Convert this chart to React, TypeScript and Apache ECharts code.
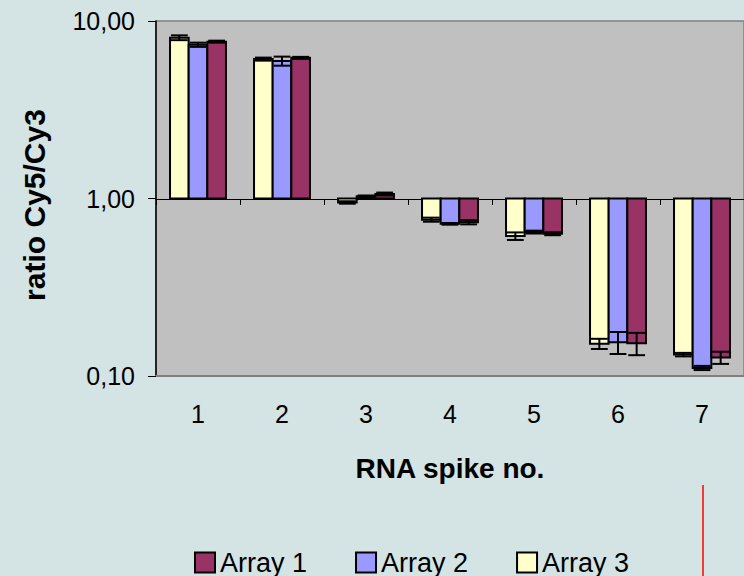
import React, { useEffect, useRef } from "react";
import * as echarts from "echarts";

const categories = ["1", "2", "3", "4", "5", "6", "7"];
const array1 = [7.65, 6.2, 1.06, 0.735, 0.633, 0.153, 0.127];
const array1Err = [0.1, 0.08, 0.02, 0.02, 0.012, 0.022, 0.01];
const array2 = [7.35, 5.95, 1.03, 0.72, 0.647, 0.155, 0.111];
const array2Err = [0.2, 0.35, 0.01, 0.008, 0.012, 0.022, 0.003];
const array3 = [8.05, 6.1, 0.95, 0.76, 0.614, 0.152, 0.132];
const array3Err = [0.25, 0.12, 0.015, 0.02, 0.03, 0.01, 0.003];
const yTicks = [0.1, 1, 10];

const FONT = "Liberation Sans, Arial, sans-serif";

function makeSeries(name: string, vals: number[], errs: number[], color: string, slot: number) {
  return {
    name,
    type: "custom",
    clip: true,
    itemStyle: { color, borderColor: "#000", borderWidth: 2 },
    data: vals.map((v, i) => [i, v, errs[i]]),
    renderItem: (params: any, api: any) => {
      const idx = api.value(0);
      const v = api.value(1);
      const e = api.value(2);
      const c0 = api.coord([0, 1]);
      const c1 = api.coord([1, 1]);
      const band = c1[0] - c0[0];
      const bw = band * 0.222;
      const base = api.coord([idx, 1]);
      const top = api.coord([idx, v]);
      const x0 = base[0] + (slot - 0.5) * bw;
      const y0 = Math.min(base[1], top[1]);
      const h = Math.abs(base[1] - top[1]);
      const yUp = api.coord([idx, v + e])[1];
      const yDn = api.coord([idx, v - e])[1];
      const cx = x0 + bw / 2;
      const cap = bw * 0.45;
      const ls = { stroke: "#000", lineWidth: 2 };
      return {
        type: "group",
        children: [
          { type: "rect", shape: { x: x0, y: y0, width: bw, height: h }, style: { fill: color, stroke: "#000", lineWidth: 2 } },
          { type: "line", shape: { x1: cx, y1: yUp, x2: cx, y2: yDn }, style: ls },
          { type: "line", shape: { x1: cx - cap, y1: yUp, x2: cx + cap, y2: yUp }, style: ls },
          { type: "line", shape: { x1: cx - cap, y1: yDn, x2: cx + cap, y2: yDn }, style: ls },
        ],
      };
    },
  };
}

export default function App() {
  const ref = useRef<HTMLDivElement>(null);
  useEffect(() => {
    if (!ref.current) return;
    const chart = echarts.init(ref.current, undefined, { renderer: "svg" });
    chart.setOption({
      animation: false,
      backgroundColor: "#D4E3E3",
      textStyle: { fontFamily: FONT },
      grid: {
        left: 156,
        top: 21,
        width: 590,
        height: 355,
        show: true,
        backgroundColor: "#C0C0C0",
        borderColor: "#808080",
        borderWidth: 1.5,
      },
      legend: {
        left: 189,
        top: 544,
        icon: "rect",
        itemWidth: 20,
        itemHeight: 20,
        itemGap: 48,
        textStyle: { fontSize: 27, color: "#000", fontFamily: FONT },
        data: [
          { name: "Array 1", itemStyle: { color: "#993366", borderColor: "#000", borderWidth: 2 } },
          { name: "Array 2", itemStyle: { color: "#9999FF", borderColor: "#000", borderWidth: 2 } },
          { name: "Array 3", itemStyle: { color: "#FFFFCC", borderColor: "#000", borderWidth: 2 } },
        ],
      },
      xAxis: [
        {
          type: "category",
          data: categories,
          position: "bottom",
          axisLine: { show: true, lineStyle: { color: "#808080", width: 2 } },
          axisTick: { show: false },
          axisLabel: { fontSize: 25, color: "#000", margin: 25, fontFamily: FONT },
          name: "RNA spike no.",
          nameLocation: "middle",
          nameGap: 92,
          nameTextStyle: { fontSize: 28, fontWeight: "bold", color: "#000", fontFamily: FONT, verticalAlign: "middle" },
        },
        {
          type: "category",
          data: categories,
          position: "bottom",
          offset: -177,
          axisLine: { show: true, lineStyle: { color: "#000", width: 1 } },
          axisTick: { show: true, length: 6, lineStyle: { color: "#000" } },
          axisLabel: { show: false },
        },
      ],
      yAxis: {
        type: "log",
        logBase: 10,
        min: 0.1,
        max: 10,
        axisLine: { show: true, lineStyle: { color: "#000", width: 1.5 } },
        axisTick: { show: true, length: 8, lineStyle: { color: "#000" } },
        splitLine: { show: false },
        axisLabel: {
          fontSize: 25,
          color: "#000",
          margin: 21,
          fontFamily: FONT,
          formatter: (v: number) => {
            const t = yTicks.find((k) => Math.abs(k - v) < 1e-9) ?? v;
            return t.toFixed(2).replace(".", ",");
          },
        },
      },
      graphic: [
        {
          type: "text",
          x: 34,
          y: 205,
          rotation: Math.PI / 2,
          style: {
            text: "ratio Cy5/Cy3",
            fontSize: 30,
            fontWeight: "bold",
            fontFamily: FONT,
            fill: "#000",
            align: "center",
            verticalAlign: "middle",
          },
        },
        { type: "line", shape: { x1: 703, y1: 485, x2: 703, y2: 576 }, style: { stroke: "#FF0000", lineWidth: 1.5 } },
      ],
      series: [
        makeSeries("Array 3", array3, array3Err, "#FFFFCC", -1),
        makeSeries("Array 2", array2, array2Err, "#9999FF", 0),
        makeSeries("Array 1", array1, array1Err, "#993366", 1),
      ],
    });
    return () => chart.dispose();
  }, []);
  return <div ref={ref} style={{ position: "fixed", left: 0, top: 0, width: 744, height: 576 }} />;
}
